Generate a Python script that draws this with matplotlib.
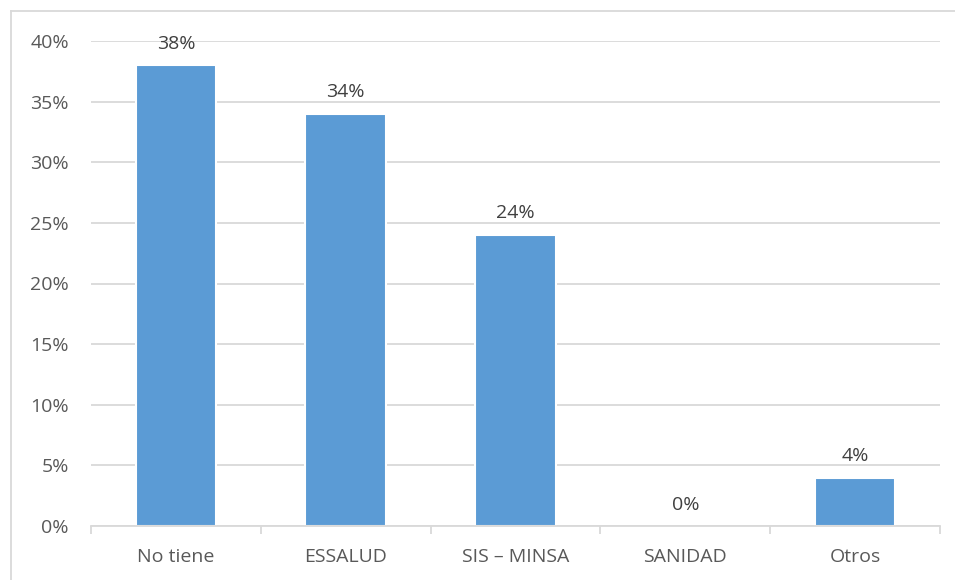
import matplotlib
matplotlib.use("Agg")
import matplotlib.pyplot as plt
from matplotlib.lines import Line2D
from matplotlib.ticker import FuncFormatter, MultipleLocator

categories = ["No tiene", "ESSALUD", "SIS – MINSA", "SANIDAD", "Otros"]
values = [38, 34, 24, 0, 4]
labels = ["38%", "34%", "24%", "0%", "4%"]

plt.rcParams['font.family'] = ['Open Sans', 'DejaVu Sans']
W, H = 955, 580
fs = 14
fig = plt.figure(figsize=(W / 100, H / 100), dpi=100)
ax = fig.add_axes([91 / W, 1 - 526 / H, (940 - 91) / W, (526 - 41) / H])

x = list(range(len(categories)))
bars = ax.bar(x, values, width=0.475, color="#5B9BD5", edgecolor="white",
              linewidth=[1.5 if v > 0 else 0 for v in values], zorder=3)
ax.set_xlim(-0.5, len(categories) - 0.5)
ax.set_ylim(0, 40)
ax.yaxis.set_major_locator(MultipleLocator(5))
ax.yaxis.set_major_formatter(FuncFormatter(lambda v, p: f"{int(v)}%"))
ax.grid(axis="y", color="#D9D9D9", linewidth=1.3, zorder=0)
for s in ["top", "right", "left"]:
    ax.spines[s].set_visible(False)
ax.spines["bottom"].set_color("#D9D9D9")
ax.spines["bottom"].set_linewidth(1.3)
ax.spines["bottom"].set_zorder(5)
ax.set_xticks(x)
ax.set_xticklabels(categories)
ax.set_xticks([i - 0.5 for i in range(len(categories) + 1)], minor=True)
ax.tick_params(axis="x", which="major", length=0, pad=16, labelsize=fs, labelcolor="#595959")
ax.tick_params(axis="x", which="minor", length=6, color="#D9D9D9", width=1.3)
ax.tick_params(axis="y", length=0, pad=16, labelsize=fs, labelcolor="#595959")

for b, lab in zip(bars, labels):
    ax.annotate(lab, (b.get_x() + b.get_width() / 2, b.get_height()), xytext=(0, 9),
                textcoords="offset points", ha="center", va="bottom",
                fontsize=fs, color="#404040", zorder=4)

fig.add_artist(Line2D([10.5 / W, 10.5 / W], [0, 1 - 11 / H], transform=fig.transFigure, color="#D9D9D9", lw=1.3))
fig.add_artist(Line2D([10.5 / W, 1], [1 - 11 / H, 1 - 11 / H], transform=fig.transFigure, color="#D9D9D9", lw=1.3))

fig.savefig("out.png", dpi=100, facecolor="white")
